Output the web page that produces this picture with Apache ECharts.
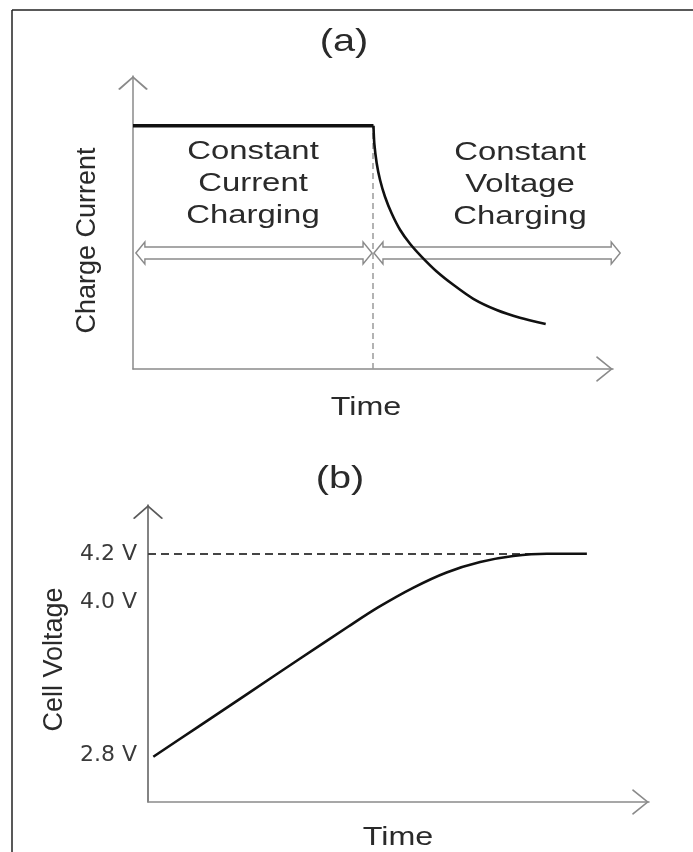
<!DOCTYPE html>
<html><head><meta charset="utf-8">
<script src="https://cdn.jsdelivr.net/npm/echarts@6/dist/echarts.min.js"></script>
<style>html,body{margin:0;padding:0;background:#fff}#c{width:693px;height:852px}</style>
</head><body><div id="c"></div>
<script>
// ---- (a) Charge current, schematic units (0-100 on both axes) ----
const ccPhase = [[0, 83], [50.1, 83]];
const cvPhase = [[50.1, 83], [50.27, 77.03], [50.77, 70.24], [51.46, 64.6], [52.5, 58.8], [53.9, 53.07],
  [55.63, 47.54], [57.71, 42.76], [60.15, 38.29], [63.27, 33.28], [66.73, 28.74], [70.9, 23.96],
  [75.77, 20.14], [80.6, 17.51], [85.98, 15.39]];
const switchLine = [[50, 0], [50, 83]];
const phaseArrows = [[0.6, 49.8, 39.6], [50.2, 101.5, 39.6]];
const phaseLabels = ['Constant\nCurrent\nCharging', 'Constant\nVoltage\nCharging'];

// ---- (b) Cell voltage, schematic units ----
const cellVoltage = [[1.06, 15.25], [10, 25.3], [20, 36.6], [30, 47.9], [40, 59.1], [46, 65.6],
  [53, 72.2], [59.6, 77.3], [66.3, 80.8], [72.9, 82.8], [79.6, 83.6], [87.6, 83.6]];
const limitLine = [[0, 83.5], [80, 83.5]];
const voltTickPos = [15.8, 67.3, 83.5];
const voltTickLabels = ['2.8 V', '4.0 V', '4.2 V'];

const chart = echarts.init(document.getElementById('c'), null, {renderer: 'canvas'});

const chevY = 'path://M0,13L15,0L30,13L28.2,13.8L15,2.2L1.8,13.8Z';
const chevX = 'path://M0,16L13,0L26,16L24.4,16.8L13,2.4L1.6,16.8Z';
function axisLine(color, sym, size) {
  return {show: true, onZero: false, lineStyle: {color: color, width: 1.5},
    symbol: ['none', sym], symbolSize: size, symbolOffset: [0, -size[1] / 2]};
}
const FONT = '"Liberation Sans", Arial, sans-serif';
const SX = 1.24;
function txt(text, x, y, size, extra) {
  return Object.assign({type: 'text', x: x, y: y, scaleX: SX, silent: true,
    style: {text: text, font: size + 'px ' + FONT, fill: '#2a2a2a',
      textAlign: 'center', textVerticalAlign: 'middle', align: 'center', verticalAlign: 'middle',
      lineHeight: Math.round(size * 1.22)}}, extra || {});
}

function arrowItem(params, api) {
  const a = api.coord([api.value(0), api.value(2)]);
  const b = api.coord([api.value(1), api.value(2)]);
  const y = a[1], x0 = a[0], x1 = b[0];
  const sh = 6, hh = 11, hl = 9;
  const pts = [[x0, y], [x0 + hl, y - hh], [x0 + hl, y - sh], [x1 - hl, y - sh], [x1 - hl, y - hh],
    [x1, y], [x1 - hl, y + hh], [x1 - hl, y + sh], [x0 + hl, y + sh], [x0 + hl, y + hh]];
  return {type: 'polygon', shape: {points: pts},
    style: {fill: '#fff', stroke: '#8a8a8a', lineWidth: 1.4}};
}

const option = {
  animation: false,
  backgroundColor: '#fff',
  grid: [
    {left: 133, top: 76, right: 80, bottom: 483, outerBoundsMode: 'none'},
    {left: 148, top: 505, right: 44, bottom: 50, outerBoundsMode: 'none'}
  ],
  xAxis: [
    {gridIndex: 0, type: 'value', min: 0, max: 100, axisLine: axisLine('#8a8a8a', chevX, [26, 17]),
      axisTick: {show: false}, axisLabel: {show: false}, splitLine: {show: false}},
    {gridIndex: 1, type: 'value', min: 0, max: 100, axisLine: axisLine('#8a8a8a', chevX, [26, 17]),
      axisTick: {show: false}, axisLabel: {show: false}, splitLine: {show: false}}
  ],
  yAxis: [
    {gridIndex: 0, type: 'value', min: 0, max: 100, axisLine: axisLine('#8a8a8a', chevY, [30, 14]),
      axisTick: {show: false}, axisLabel: {show: false}, splitLine: {show: false},
      name: 'Charge Current', nameLocation: 'middle', nameRotate: 90, nameGap: 32, nameMoveOverlap: false,
      nameTextStyle: {fontFamily: FONT, fontSize: 27, color: '#2a2a2a', padding: [0, 36, 0, 0]}},
    {gridIndex: 1, type: 'value', min: 0, max: 100, axisLine: axisLine('#5a5a5a', chevY, [32, 14]),
      axisTick: {show: false}, splitLine: {show: false},
      axisLabel: {show: true, customValues: voltTickPos, margin: 11, fontFamily: '"DejaVu Sans", sans-serif',
        fontSize: 22, color: '#3a3a3a',
        formatter: function (v) {
          for (let i = 0; i < voltTickPos.length; i++) if (Math.abs(voltTickPos[i] - v) < 1e-6) return voltTickLabels[i];
          return '';
        }},
      name: 'Cell Voltage', nameLocation: 'middle', nameRotate: 90, nameGap: 80, nameMoveOverlap: false,
      nameTextStyle: {fontFamily: FONT, fontSize: 27, color: '#2a2a2a', padding: [0, 12, 0, 0]}}
  ],
  series: [
    {type: 'line', xAxisIndex: 0, yAxisIndex: 0, data: switchLine, showSymbol: false, z: 1, silent: true,
      lineStyle: {color: '#9a9a9a', width: 1.5, type: [6, 4]}},
    {type: 'custom', xAxisIndex: 0, yAxisIndex: 0, data: phaseArrows, renderItem: arrowItem,
      encode: {x: [0, 1], y: 2}, clip: false, z: 2, silent: true},
    {type: 'line', xAxisIndex: 0, yAxisIndex: 0, data: ccPhase, showSymbol: false, z: 3, silent: true,
      lineStyle: {color: '#111', width: 3.4}},
    {type: 'line', xAxisIndex: 0, yAxisIndex: 0, data: cvPhase, showSymbol: false, z: 3, silent: true,
      smooth: 0.25, lineStyle: {color: '#111', width: 2.6}},
    {type: 'line', xAxisIndex: 1, yAxisIndex: 1, data: limitLine, showSymbol: false, z: 1, silent: true,
      lineStyle: {color: '#444', width: 2, type: [8, 5]}},
    {type: 'line', xAxisIndex: 1, yAxisIndex: 1, data: cellVoltage, showSymbol: false, z: 3, silent: true,
      smooth: 0.3, lineStyle: {color: '#111', width: 2.6}}
  ],
  graphic: [
    {type: 'line', silent: true, shape: {x1: 12, y1: 852, x2: 12, y2: 10}, style: {stroke: '#222', lineWidth: 1.5}},
    {type: 'line', silent: true, shape: {x1: 12, y1: 10, x2: 693, y2: 10}, style: {stroke: '#222', lineWidth: 1.5}},
    txt('(a)', 344, 42, 32),
    txt(phaseLabels[0], 253, 184, 26.5),
    txt(phaseLabels[1], 520, 185, 26.5),
    txt('Time', 366, 408, 26),
    txt('(b)', 340, 479, 32),
    txt('Time', 398, 838, 26)
  ]
};
chart.setOption(option);
</script>
</body></html>
